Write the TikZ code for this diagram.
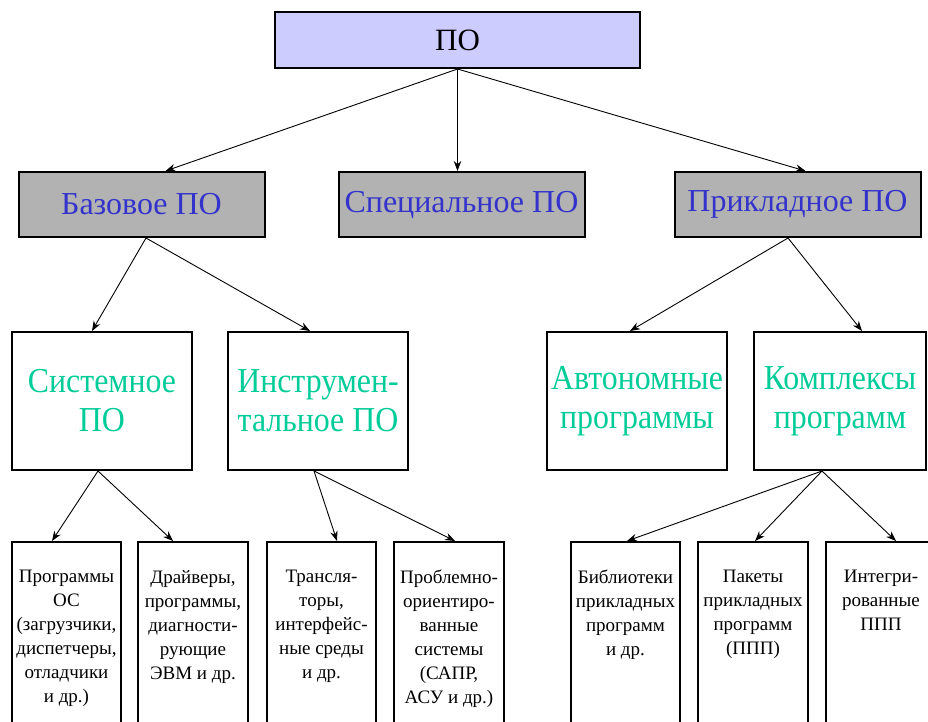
\documentclass[tikz,border=0pt]{standalone}
\usepackage{fontspec}
\setmainfont{Liberation Serif}
\newfontfamily\narrowserif[FakeStretch=0.91]{Liberation Serif}
\usetikzlibrary{arrows.meta}
\definecolor{lav}{RGB}{204,204,255}
\definecolor{grayfill}{RGB}{178,178,178}
\definecolor{bluetxt}{RGB}{51,51,204}
\definecolor{greentxt}{RGB}{0,204,153}
\begin{document}
\begin{tikzpicture}[x=1pt,y=-1pt,
  box/.style={draw=black,line width=2pt,inner sep=0pt,align=center},
  topbox/.style={box,fill=lav,minimum width=365pt,minimum height=56pt,font=\fontsize{31}{36}\selectfont},
  midbox/.style={box,fill=grayfill,minimum width=246pt,minimum height=65pt,text=bluetxt,font=\fontsize{32}{36}\selectfont},
  subbox/.style={box,fill=white,minimum width=180pt,minimum height=138pt,text=greentxt,font=\narrowserif\fontsize{35}{39}\selectfont},
  leafbox/.style={box,fill=white,minimum width=109pt,minimum height=218pt},
  leaftext/.style={inner sep=0pt,align=center,anchor=north,font=\fontsize{19}{24}\selectfont},
  arr/.style={-{Stealth[length=10pt,width=7.5pt]},line width=0.9pt}]
\useasboundingbox (0,0) rectangle (928,722);
\fill[white] (0,0) rectangle (928,722);

\node[topbox] (po) at (457.5,40) {ПО};

\node[midbox] (base) at (141.5,204.5) {Базовое ПО};
\node[midbox] (spec) at (461.5,204.5) {Специальное ПО};
\node[midbox] (appl) at (797.5,204.5) {Прикладное ПО};

\node[subbox] (sys) at (102,401) {Системное\\ПО};
\node[subbox] (instr) at (318,401) {Инструмен-\\тальное ПО};
\node[subbox] (auto) at (637,401) {Автономные\\программы};
\node[subbox,minimum width=172pt] (compl) at (840,401) {Комплексы\\программ};

\node[leafbox] (b1) at (66.5,651) {};
\node[leafbox,minimum width=110pt] (b2) at (193,651) {};
\node[leafbox] (b3) at (321.5,651) {};
\node[leafbox,minimum width=110pt] (b4) at (449,651) {};
\node[leafbox] (b5) at (625.5,651) {};
\node[leafbox,minimum width=110pt] (b6) at (753,651) {};
\node[leafbox,minimum width=110pt] (b7) at (881,651) {};

\node[leaftext] (t1) at ([yshift=-29pt]b1.north) {Программы\\ОС\\(загрузчики,\\диспетчеры,\\отладчики\\и др.)};
\node[leaftext] (t2) at ([yshift=-29pt]b2.north) {Драйверы,\\программы,\\диагности-\\рующие\\ЭВМ и др.};
\node[leaftext] (t3) at ([yshift=-29pt]b3.north) {Трансля-\\торы,\\интерфейс-\\ные среды\\и др.};
\node[leaftext] (t4) at ([yshift=-29pt]b4.north) {Проблемно-\\ориентиро-\\ванные\\системы\\(САПР,\\АСУ и др.)};
\node[leaftext] (t5) at ([yshift=-29pt]b5.north) {Библиотеки\\прикладных\\программ\\и др.};
\node[leaftext] (t6) at ([yshift=-29pt]b6.north) {Пакеты\\прикладных\\программ\\(ППП)};
\node[leaftext] (t7) at ([yshift=-29pt]b7.north) {Интегри-\\рованные\\ППП};

\draw[arr] (po.south) -- ([xshift=24pt]base.north);
\draw[arr] (po.south) -- (po.south |- spec.north);
\draw[arr] (po.south) -- ([xshift=8pt]appl.north);

\draw[arr] ([xshift=4.5pt]base.south) -- ([xshift=-10pt]sys.north);
\draw[arr] ([xshift=4.5pt]base.south) -- ([xshift=-8pt]instr.north);

\draw[arr] ([xshift=-9.5pt]appl.south) -- ([xshift=-7pt]auto.north);
\draw[arr] ([xshift=-9.5pt]appl.south) -- ([xshift=22pt]compl.north);

\draw[arr] ([xshift=-4pt]sys.south) -- ([xshift=-14.5pt]b1.north);
\draw[arr] ([xshift=-4pt]sys.south) -- ([xshift=-20pt]b2.north);
\draw[arr] ([xshift=-4pt]instr.south) -- ([xshift=15.5pt]b3.north);
\draw[arr] ([xshift=-4pt]instr.south) -- ([xshift=6pt]b4.north);

\draw[arr] ([xshift=-18pt]compl.south) -- ([xshift=1.5pt]b5.north);
\draw[arr] ([xshift=-18pt]compl.south) -- ([xshift=2pt]b6.north);
\draw[arr] ([xshift=-18pt]compl.south) -- ([xshift=15pt]b7.north);
\end{tikzpicture}
\end{document}
